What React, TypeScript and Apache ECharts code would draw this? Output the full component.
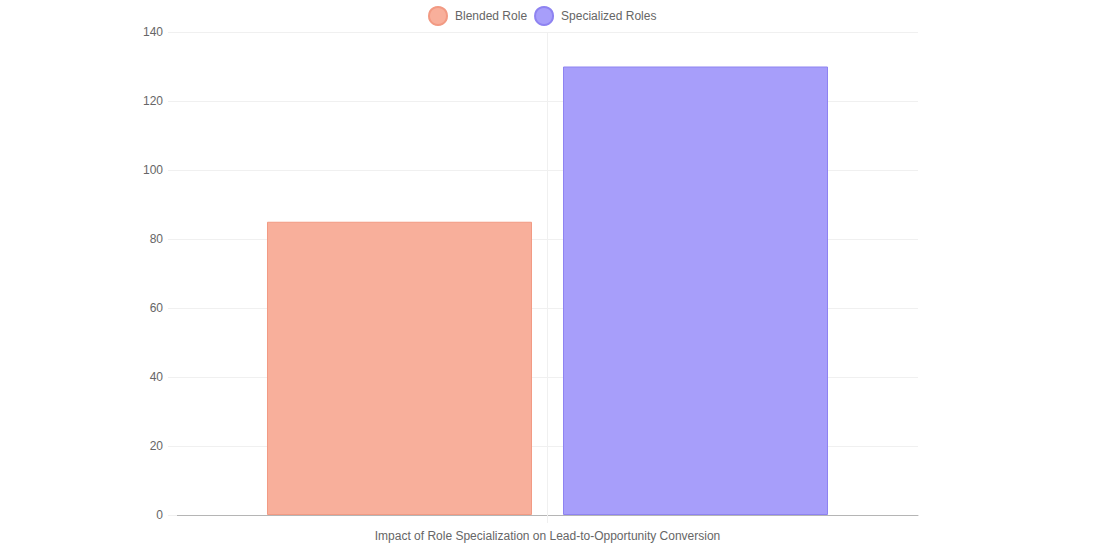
import React, { useEffect, useRef } from "react";
import * as echarts from "echarts";

const categories = ["Impact of Role Specialization on Lead-to-Opportunity Conversion"];
const blendedRole = [85];
const specializedRoles = [130];
const seriesNames = ["Blended Role", "Specialized Roles"];

export default function App() {
  const ref = useRef<HTMLDivElement>(null);
  useEffect(() => {
    document.body.style.margin = "0";
    if (!ref.current) return;
    const chart = echarts.init(ref.current, undefined, { renderer: "svg" });
    const font = "Liberation Sans, Arial, Helvetica, sans-serif";
    chart.setOption({
      animation: false,
      textStyle: { fontFamily: font },
      legend: {
        top: 1,
        left: 423,
        icon: "circle",
        itemWidth: 18,
        itemHeight: 18,
        itemGap: 7,
        textStyle: { color: "#666", fontSize: 12, fontFamily: font, padding: [0, 0, 0, 3] },
        data: seriesNames,
      },
      grid: { left: 177, right: 178, top: 32, bottom: 33, containLabel: false },
      xAxis: {
        type: "category",
        data: categories,
        axisLine: { show: true, lineStyle: { color: "#b5b5b5", width: 1 } },
        axisTick: { show: true, alignWithLabel: true, length: 8, lineStyle: { color: "#f0f0f0" } },
        axisLabel: { color: "#666", fontSize: 12, margin: 15, fontFamily: font },
        splitLine: { show: false },
      },
      yAxis: {
        type: "value",
        min: 0,
        max: 140,
        interval: 20,
        axisLine: { show: false },
        axisTick: { show: true, length: 9, lineStyle: { color: "#f0f0f0" } },
        axisLabel: { color: "#666", fontSize: 12, margin: 14, fontFamily: font },
        splitLine: { show: true, lineStyle: { color: "#f0f0f0", width: 1 } },
      },
      series: [
        {
          name: "centerLine",
          type: "line",
          data: [],
          z: 0,
          silent: true,
          markLine: {
            silent: true,
            symbol: "none",
            label: { show: false },
            lineStyle: { color: "#f0f0f0", type: "solid", width: 1 },
            data: [{ xAxis: 0 }],
          },
        },
        {
          name: seriesNames[0],
          type: "bar",
          data: blendedRole,
          barWidth: 265,
          barGap: "11.7%",
          z: 2,
          itemStyle: { color: "#F8AF9B", borderColor: "#F29A83", borderWidth: 1 },
        },
        {
          name: seriesNames[1],
          type: "bar",
          data: specializedRoles,
          barWidth: 265,
          z: 2,
          itemStyle: { color: "#A79EFA", borderColor: "#8E83F1", borderWidth: 1 },
        },
      ],
    });
    return () => chart.dispose();
  }, []);
  return <div ref={ref} style={{ width: 1096, height: 548 }} />;
}
